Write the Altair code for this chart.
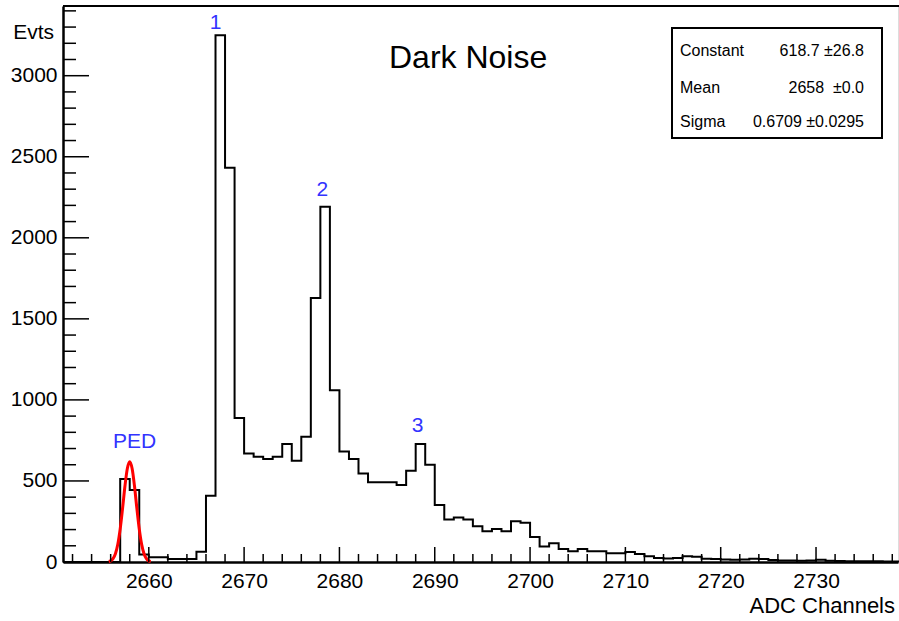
import altair as alt
import pandas as pd

# ---- data ----
bin_low_edges = list(range(2651, 2739))  # 1-channel bins, 2651 .. 2738
counts = [
    0, 0, 0, 0, 0, 0,            # 2651-2656
    512, 444,                    # 2657-2658 (pedestal)
    46, 30, 30, 18, 18, 18, 64,  # 2659-2665
    408, 3250, 2432, 888, 670, 650, 636, 650, 728, 624,   # 2666-2675
    772, 1628, 2192, 1060, 682, 636, 546, 492, 492, 492,  # 2676-2685
    475, 563, 728, 600, 352, 262, 275, 262, 220, 190,     # 2686-2695
    204, 190, 252, 242, 155, 96, 116, 80, 66, 80,         # 2696-2705
    66, 66, 54, 54, 62, 50, 36, 24, 22, 24,               # 2706-2715
    35, 33, 20, 18, 15, 14, 16, 20, 18, 12,               # 2716-2725
    10, 9, 8, 10, 14, 8, 6, 5, 5, 4,                      # 2726-2735
    4, 3, 3,                                              # 2736-2738
]

# pedestal fit curve
fit_x = [2655.8, 2656.0, 2656.25, 2656.5, 2656.75, 2657.0, 2657.25, 2657.5, 2657.75,
         2658.0, 2658.25, 2658.5, 2658.75, 2659.0, 2659.25, 2659.5, 2659.75, 2660.0, 2660.2]
fit_y = [3, 7, 21, 51, 109, 204, 331, 469, 577,
         619, 577, 469, 331, 204, 109, 51, 21, 7, 3]

peak_labels = ["1", "2", "3", "PED"]
peak_label_x = [2667.0, 2678.2, 2688.2, 2658.5]
peak_label_y = [3289, 2255, 801, 704]

stat_names = ["Constant", "Mean", "Sigma"]
stat_values = ["618.7 \u00b126.8", "2658\u00a0\u00a0\u00b10.0", "0.6709 \u00b10.0295"]

x_major = list(range(2660, 2740, 10))
x_minor = [v for v in range(2652, 2740, 2) if v not in x_major]
y_major = list(range(0, 3001, 500))
y_minor = [v for v in range(100, 3401, 100) if v not in y_major]

# ---- layout ----
W, H = 835, 556
XD = [2651, 2738.6]
YD = [0, 3430]
FONT = "Liberation Sans"
BLUE = "#3333ff"

xs = alt.Scale(domain=XD, nice=False, zero=False)
ys = alt.Scale(domain=YD, nice=False, zero=False)

X_AX = alt.Axis(
    values=x_major, ticks=False, grid=False, title=None,
    labelFont=FONT, labelFontSize=21, labelColor="black", labelPadding=8,
    domainColor="black", domainWidth=2.5, labelFlush=False, format="d")
Y_AX = alt.Axis(
    values=y_major, ticks=False, grid=False, title=None,
    labelFont=FONT, labelFontSize=21, labelColor="black", labelPadding=6,
    domainColor="black", domainWidth=2.5, labelFlush=False, format="d")


def X(f):
    return alt.X(f, scale=xs, axis=X_AX, title=None)


def Y(f):
    return alt.Y(f, scale=ys, axis=Y_AX, title=None)


hist_df = pd.DataFrame({
    "x": bin_low_edges + [bin_low_edges[-1] + 1],
    "y": counts + [counts[-1]],
})

hist = alt.Chart(hist_df).mark_line(
    interpolate="step-after", color="black", strokeWidth=2
).encode(x=X("x:Q"), y=Y("y:Q"))

fit = alt.Chart(pd.DataFrame({"x": fit_x, "y": fit_y})).mark_line(
    interpolate="monotone", color="#ff0000", strokeWidth=3
).encode(x=X("x:Q"), y=Y("y:Q"))

xmaj = alt.Chart(pd.DataFrame({"x": x_major})).mark_rule(color="black", strokeWidth=1.5).encode(
    x=X("x:Q"), y=alt.value(H), y2=alt.value(H - 15))
xmin = alt.Chart(pd.DataFrame({"x": x_minor})).mark_rule(color="black", strokeWidth=1.5).encode(
    x=X("x:Q"), y=alt.value(H), y2=alt.value(H - 8))
ymaj = alt.Chart(pd.DataFrame({"y": y_major})).mark_rule(color="black", strokeWidth=1.5).encode(
    y=Y("y:Q"), x=alt.value(0), x2=alt.value(26))
ymin = alt.Chart(pd.DataFrame({"y": y_minor})).mark_rule(color="black", strokeWidth=1.5).encode(
    y=Y("y:Q"), x=alt.value(0), x2=alt.value(13))

one = pd.DataFrame({"k": [0]})
top_line = alt.Chart(one).mark_rule(color="black", strokeWidth=2).encode(
    x=alt.value(0), x2=alt.value(W + 2), y=alt.value(0))

labels = alt.Chart(pd.DataFrame({"t": peak_labels, "x": peak_label_x, "y": peak_label_y})).mark_text(
    font=FONT, fontSize=21, color=BLUE, align="center", baseline="alphabetic"
).encode(x=X("x:Q"), y=Y("y:Q"), text="t:N")

title = alt.Chart(pd.DataFrame({"t": ["Dark Noise"]})).mark_text(
    font=FONT, fontSize=32, color="black", align="left", baseline="alphabetic"
).encode(text="t:N", x=alt.value(326), y=alt.value(62))

evts = alt.Chart(pd.DataFrame({"t": ["Evts"]})).mark_text(
    font=FONT, fontSize=21, color="black", align="right", baseline="alphabetic"
).encode(text="t:N", x=alt.value(-9), y=alt.value(32.5))

xtitle = alt.Chart(pd.DataFrame({"t": ["ADC Channels"]})).mark_text(
    font=FONT, fontSize=22, color="black", align="right", baseline="alphabetic"
).encode(text="t:N", x=alt.value(832), y=alt.value(606.5))

box = alt.Chart(one).mark_rect(fill="white", stroke="black", strokeWidth=2).encode(
    x=alt.value(609), x2=alt.value(819), y=alt.value(22), y2=alt.value(132))

row_y = [49.5, 86.5, 120.5]
stat_layers = []
for name, val, ry in zip(stat_names, stat_values, row_y):
    d = pd.DataFrame({"n": [name], "v": [val]})
    stat_layers.append(alt.Chart(d).mark_text(
        font=FONT, fontSize=16, color="black", align="left", baseline="alphabetic"
    ).encode(text="n:N", x=alt.value(617), y=alt.value(ry)))
    stat_layers.append(alt.Chart(d).mark_text(
        font=FONT, fontSize=16, color="black", align="right", baseline="alphabetic"
    ).encode(text="v:N", x=alt.value(801), y=alt.value(ry)))

chart = alt.layer(
    hist, fit, xmaj, xmin, ymaj, ymin, top_line, labels, title, evts, xtitle, box, *stat_layers
).properties(
    width=W, height=H,
    autosize=alt.AutoSizeParams(type="none"),
    padding={"left": 63, "top": 6, "right": 1, "bottom": 59},
).configure_view(stroke=None).configure(background="white")

chart.save("out.html", embed_options={"renderer": "svg", "actions": False})
